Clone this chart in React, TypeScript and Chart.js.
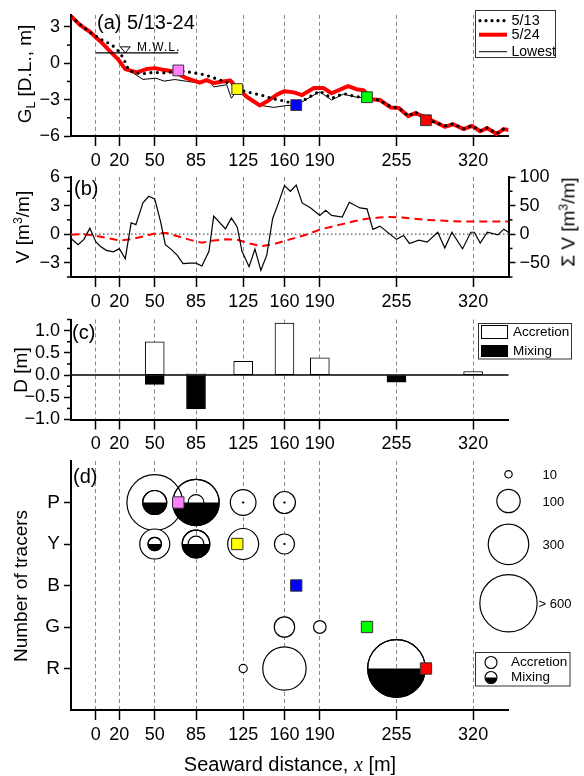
import React, { useEffect, useRef } from "react";
import { Chart, registerables } from "chart.js";

Chart.register(...registerables);

const FONT = "'Liberation Sans', Arial, Helvetica, sans-serif";
const W = 584;
const H = 776;
const PLOT_RIGHT = 508.5;
const X_AXIS_H = 36;

// ---------- shared x axis ----------
const distanceTicks = [0, 20, 50, 85, 125, 160, 190, 255, 320];
const X_MIN = -21;
const X_MAX = 350;

// ---------- (a) cross-shore profiles ----------
const profile0513X = [-21, -13, -5, 4, 12, 17, 21, 24, 28, 38, 49, 60, 70, 77, 89, 96, 106, 117, 120, 128, 140, 151, 162, 170, 179, 190, 200, 210, 221, 230, 240, 250, 257, 265, 271, 280, 286, 296, 303, 312, 319, 326, 332, 340, 346, 350];
const profile0513Y = [3.88, 3.2, 2.55, 2.0, 1.6, 1.26, 0.8, 0.3, -0.6, -0.88, -0.75, -0.8, -0.59, -0.7, -0.88, -1.07, -1.4, -1.8, -2.13, -2.35, -2.62, -2.94, -3.16, -3.45, -2.89, -2.3, -2.89, -2.49, -2.76, -2.81, -3.03, -3.56, -3.69, -4.36, -4.0, -4.7, -4.81, -5.16, -5.0, -5.4, -5.13, -5.58, -5.32, -5.8, -5.4, -5.5];
const profile0524X = [-21, -13, -5, 4, 12, 19, 25, 35, 43, 50, 57, 66, 77, 88, 94, 100, 108, 114, 120, 128, 139, 145, 154, 160, 168, 175, 185, 193, 200, 214, 221, 227, 234, 241, 250, 257, 265, 271, 277, 286, 296, 303, 312, 319, 326, 332, 340, 346, 350];
const profile0524Y = [3.88, 3.13, 2.6, 1.8, 1.0, 0.32, -0.48, -0.75, -0.48, -0.4, -0.53, -0.67, -1.23, -1.6, -1.39, -1.63, -1.5, -1.42, -2.04, -2.76, -3.48, -3.16, -2.57, -2.3, -2.4, -2.62, -2.04, -2.04, -2.47, -1.88, -2.14, -2.22, -2.97, -3.03, -3.64, -3.69, -4.36, -4.1, -4.36, -4.76, -5.24, -5.03, -5.43, -5.16, -5.61, -5.35, -5.83, -5.43, -5.51];
const lowestX = [-21, -13, -5, 4, 12, 19, 25, 33, 40, 51, 58, 67, 78, 88, 96, 100, 111, 115, 120, 128, 140, 151, 162, 170, 179, 190, 200, 210, 221, 230, 240, 250, 257, 265, 271, 280, 286, 296, 303, 312, 319, 326, 332, 340, 346, 350];
const lowestY = [3.88, 3.13, 2.6, 1.8, 1.0, 0.32, -0.48, -0.88, -1.33, -1.23, -1.47, -1.34, -1.5, -1.62, -1.42, -1.95, -1.77, -2.89, -2.22, -2.78, -3.48, -3.64, -3.48, -3.47, -2.95, -2.35, -3.03, -2.55, -2.8, -2.85, -3.06, -3.62, -3.72, -4.4, -4.12, -4.76, -4.83, -5.25, -5.06, -5.45, -5.18, -5.63, -5.37, -5.85, -5.45, -5.53];
const mwlElevation = 0.86;
const mwlRange = [0, 70];
const mwlMarkX = 25;
const mwlTextX = 35;
const elevMajor = [-6, -3, 0, 3];
const elevMinor = [-4.5, -1.5, 1.5];

// ---------- tracer injection points ----------
const tracerNames = ["P", "Y", "B", "G", "R"];
const tracerX = [70, 120, 170, 230, 280];
const tracerElevation = [-0.59, -2.13, -3.45, -2.8, -4.7];
const tracerColors = ["#ff80ff", "#ffff00", "#0000ff", "#00ff00", "#ff0000"];

// ---------- (b) volume change ----------
const volumeX = [-21, -15, -10, -5, 0, 4, 9, 15, 20, 25, 30, 34, 40, 45, 50, 55, 59, 64, 69, 74, 80, 85, 90, 96, 100, 110, 115, 120, 124, 130, 135, 140, 145, 150, 155, 160, 165, 170, 175, 182, 190, 195, 200, 209, 215, 224, 230, 235, 241, 255, 261, 266, 274, 281, 290, 296, 302, 311, 318, 321, 326, 332, 341, 346, 350];
const volumeV = [-0.45, -1.11, -0.55, 0.63, -0.8, -1.3, -1.7, -1.85, -1.52, -2.58, 1.19, 1.0, 3.28, 3.98, 3.7, 1.3, -1.1, -1.6, -2.2, -3.1, -3.05, -3.05, -3.35, -1.8, 1.89, 0.55, 1.7, 0.73, -1.8, -3.42, -1.56, -3.8, -2.2, 1.64, 3.28, 5.1, 4.5, 5.15, 3.28, 2.77, 1.97, 2.5, 1.97, 1.8, 3.35, 2.75, 2.66, 0.5, 0.84, -0.55, -0.14, -0.98, -0.63, -0.84, 0.2, -1.45, 0.2, -1.55, 0.2, 0.2, -0.94, 0.2, -0.07, 0.52, 0.2];
const cumulativeX = [-21, -10, 0, 10, 20, 30, 40, 50, 60, 70, 80, 90, 100, 110, 120, 130, 140, 150, 160, 170, 180, 190, 200, 210, 220, 230, 240, 250, 260, 270, 280, 290, 300, 310, 320, 330, 340, 350];
const cumulativeV = [-1, 0, -3, -7, -11, -9, -4, 1, 2, -4, -10, -15, -11, -9, -10, -16, -21, -18, -12, -6, 0, 8, 13, 18, 23, 27, 29, 30, 29, 27, 25, 24, 23, 22, 22, 22, 22, 22];
const vMajor = [-3, 0, 3, 6];
const vMinor = [-4.5, -1.5, 1.5, 4.5];
const sumMajor = [-50, 0, 50, 100];
const sumMinor = [-75, -25, 25, 75];

// ---------- (c) depths ----------
const accretionDepthX = [50, 85, 125, 160, 190, 320];
const accretionDepth = [0.75, 0.03, 0.31, 1.17, 0.39, 0.08];
const mixingDepthX = [50, 85, 255];
const mixingDepth = [-0.21, -0.76, -0.16];
const depthMajor = [-1, -0.5, 0, 0.5, 1];
const depthMinor = [-0.75, -0.25, 0.25, 0.75, 1.25];

// ---------- (d) number of tracers ----------
const rowLabels = ["R", "G", "B", "Y", "P"];
const accretionX = [50, 85, 125, 160, 50, 85, 125, 160, 160, 190, 125, 160];
const accretionRow = ["P", "P", "P", "P", "Y", "Y", "Y", "Y", "G", "G", "R", "R"];
const accretionCount = [565, 45, 120, 88, 164, 45, 175, 73, 76, 29, 12, 344];
const mixingX = [50, 85, 125, 160, 50, 85, 160, 255];
const mixingRow = ["P", "P", "P", "P", "Y", "Y", "Y", "R"];
const mixingCount = [105, 393, 0.2, 0.2, 33, 139, 0.2, 606];
const sizeLegendCounts = [10, 100, 300, 600];
const sizeLegendLabels = ["10", "100", "300", "> 600"];

// ---------- helpers ----------
const zip = (xs: number[], ys: number[]) => xs.map((x, i) => ({ x, y: ys[i] }));
const rowValue = (name: string) => rowLabels.indexOf(name) + 1;
const bubbleRadius = (n: number) => 1.17 * Math.sqrt(n);
const minus = (s: string) => s.replace("-", "\u2212");

function xScale() {
  return {
    type: "linear",
    position: "bottom",
    min: X_MIN,
    max: X_MAX,
    offset: false,
    bounds: "data",
    afterBuildTicks: (s: any) => {
      s.ticks = distanceTicks.map((v) => ({ value: v }));
    },
    afterFit: (s: any) => {
      s.height = X_AXIS_H;
    },
    ticks: {
      autoSkip: false,
      maxRotation: 0,
      minRotation: 0,
      padding: 4,
      color: "#000",
      font: { family: FONT, size: 18 },
      callback: (v: any) => String(v),
    },
    grid: {
      display: true,
      offset: false,
      drawOnChartArea: true,
      drawTicks: true,
      color: "#8a8a8a",
      lineWidth: 1,
      tickLength: 10,
      tickColor: "#000",
      tickWidth: 1.5,
    },
    border: { display: true, color: "#000", width: 2, dash: [4, 3] },
  };
}

function yScale(position: string, min: number, max: number, major: number[], label: (v: number) => string, width: number, size = 18) {
  return {
    type: "linear",
    position,
    min,
    max,
    bounds: "data",
    afterBuildTicks: (s: any) => {
      s.ticks = major.map((v) => ({ value: v }));
    },
    afterFit: (s: any) => {
      s.width = width;
    },
    ticks: {
      autoSkip: false,
      padding: 4,
      color: "#000",
      font: { family: FONT, size },
      callback: (v: any) => label(Number(v)),
    },
    grid: { drawOnChartArea: false, drawTicks: true, tickLength: 7, tickColor: "#000", tickWidth: 1.5, color: "#000" },
    border: { display: true, color: "#000", width: 2 },
  };
}

function baseOptions(top: number, bottom: number, rightPad: number) {
  return {
    responsive: false,
    maintainAspectRatio: false,
    animation: false,
    events: [],
    layout: { padding: { left: 0, right: rightPad, top, bottom: H - bottom - X_AXIS_H } },
    plugins: { legend: { display: false }, tooltip: { enabled: false }, title: { display: false } },
  };
}

function minorTicksPlugin(specs: { axis: string; values: number[]; side: "left" | "right" }[]) {
  return {
    id: "minorTicks",
    afterDraw(chart: any) {
      const ctx = chart.ctx;
      ctx.save();
      ctx.strokeStyle = "#000";
      ctx.lineWidth = 1.5;
      specs.forEach((sp) => {
        const s = chart.scales[sp.axis];
        const x0 = sp.side === "left" ? s.right : s.left;
        const dx = sp.side === "left" ? -4 : 4;
        sp.values.forEach((v) => {
          const y = s.getPixelForValue(v);
          ctx.beginPath();
          ctx.moveTo(x0, y);
          ctx.lineTo(x0 + dx, y);
          ctx.stroke();
        });
      });
      ctx.restore();
    },
  };
}

function drawText(ctx: any, text: string, x: number, y: number, size: number, align = "left") {
  ctx.save();
  ctx.fillStyle = "#000";
  ctx.font = `${size}px ${FONT}`;
  ctx.textAlign = align;
  ctx.textBaseline = "middle";
  ctx.fillText(text, x, y);
  ctx.restore();
}

// ---------- panel (a) ----------
function buildA(canvas: HTMLCanvasElement) {
  const deco = {
    id: "panelA",
    afterDatasetsDraw(chart: any) {
      const { ctx } = chart;
      const x = chart.scales.x;
      const y = chart.scales.y;
      const yl = y.getPixelForValue(mwlElevation);
      ctx.save();
      ctx.strokeStyle = "#000";
      ctx.lineWidth = 1.2;
      ctx.beginPath();
      ctx.moveTo(x.getPixelForValue(mwlRange[0]), yl);
      ctx.lineTo(x.getPixelForValue(mwlRange[1]), yl);
      ctx.stroke();
      const xt = x.getPixelForValue(mwlMarkX);
      ctx.lineWidth = 1;
      ctx.beginPath();
      ctx.moveTo(xt - 5, yl - 6);
      ctx.lineTo(xt + 5, yl - 6);
      ctx.lineTo(xt, yl);
      ctx.closePath();
      ctx.stroke();
      ctx.fillStyle = "#000";
      ctx.font = `12px ${FONT}`;
      ctx.textBaseline = "alphabetic";
      ctx.letterSpacing = "1px";
      ctx.fillText("M.W.L.", x.getPixelForValue(mwlTextX), yl - 1.5);
      ctx.restore();
    },
    afterDraw(chart: any) {
      const { ctx } = chart;
      drawText(ctx, "(a) 5/13-24", 97, 23, 20);
      ctx.save();
      ctx.fillStyle = "#fff";
      ctx.fillRect(475.5, 10.5, 80, 47);
      ctx.strokeStyle = "#333";
      ctx.lineWidth = 1;
      ctx.strokeRect(475.5, 10.5, 80, 47);
      ctx.save();
      ctx.setLineDash([0, 6]);
      ctx.lineCap = "round";
      ctx.lineWidth = 3.2;
      ctx.strokeStyle = "#000";
      ctx.beginPath();
      ctx.moveTo(480, 20.7);
      ctx.lineTo(507, 20.7);
      ctx.stroke();
      ctx.restore();
      ctx.strokeStyle = "#ff0000";
      ctx.lineWidth = 4;
      ctx.beginPath();
      ctx.moveTo(479, 34.7);
      ctx.lineTo(507, 34.7);
      ctx.stroke();
      ctx.strokeStyle = "#000";
      ctx.lineWidth = 1;
      ctx.beginPath();
      ctx.moveTo(479, 51.7);
      ctx.lineTo(507, 51.7);
      ctx.stroke();
      ctx.restore();
      drawText(ctx, "5/13", 511.5, 20.7, 14.5);
      drawText(ctx, "5/24", 511.5, 34.7, 14.5);
      drawText(ctx, "Lowest", 511.5, 51.7, 14);
    },
  };
  return new Chart(canvas, {
    type: "line",
    data: {
      datasets: [
        {
          label: "tracers",
          type: "scatter",
          showLine: false,
          data: zip(tracerX, tracerElevation),
          pointStyle: "rect",
          pointRadius: 7.6,
          pointBackgroundColor: tracerColors,
          backgroundColor: tracerColors,
          pointBorderColor: "#333",
          borderColor: "#333",
          pointBorderWidth: 1,
          order: 0,
        },
        {
          label: "5/13",
          data: zip(profile0513X, profile0513Y),
          borderColor: "#000",
          borderWidth: 3.2,
          borderDash: [0, 6.5],
          borderCapStyle: "round",
          pointRadius: 0,
          order: 1,
        },
        {
          label: "5/24",
          data: zip(profile0524X, profile0524Y),
          borderColor: "#ff0000",
          borderWidth: 4,
          borderJoinStyle: "round",
          pointRadius: 0,
          order: 2,
        },
        {
          label: "Lowest",
          data: zip(lowestX, lowestY),
          borderColor: "#000",
          borderWidth: 1,
          pointRadius: 0,
          order: 3,
        },
      ],
    },
    options: {
      ...baseOptions(11, 136, W - PLOT_RIGHT),
      scales: {
        x: xScale(),
        y: yScale("left", -6, 4, elevMajor, (v) => minus(String(v)), 71),
      },
    } as any,
    plugins: [minorTicksPlugin([{ axis: "y", values: elevMinor, side: "left" }]), deco],
  } as any);
}

// ---------- panel (b) ----------
function buildB(canvas: HTMLCanvasElement) {
  const deco = {
    id: "panelB",
    beforeDatasetsDraw(chart: any) {
      const { ctx, chartArea } = chart;
      const y0 = chart.scales.y.getPixelForValue(0);
      ctx.save();
      ctx.strokeStyle = "#555";
      ctx.lineWidth = 1.2;
      ctx.setLineDash([1.5, 2.5]);
      ctx.beginPath();
      ctx.moveTo(chartArea.left, y0);
      ctx.lineTo(chartArea.right, y0);
      ctx.stroke();
      ctx.restore();
    },
    afterDraw(chart: any) {
      drawText(chart.ctx, "(b)", 74, 189, 20);
    },
  };
  return new Chart(canvas, {
    type: "line",
    data: {
      datasets: [
        {
          label: "ΣV",
          data: zip(cumulativeX, cumulativeV),
          yAxisID: "y2",
          borderColor: "#ff0000",
          borderWidth: 2,
          borderDash: [8, 5],
          pointRadius: 0,
          order: 1,
        },
        {
          label: "V",
          data: zip(volumeX, volumeV),
          yAxisID: "y",
          borderColor: "#000",
          borderWidth: 1.2,
          pointRadius: 0,
          order: 0,
        },
      ],
    },
    options: {
      ...baseOptions(177, 277, 0),
      scales: {
        x: xScale(),
        y: yScale("left", -4.5, 6, vMajor, (v) => minus(String(v)), 71),
        y2: yScale("right", -75, 100, sumMajor, (v) => minus(String(v)), W - PLOT_RIGHT),
      },
    } as any,
    plugins: [
      minorTicksPlugin([
        { axis: "y", values: vMinor, side: "left" },
        { axis: "y2", values: sumMinor, side: "right" },
      ]),
      deco,
    ],
  } as any);
}

// ---------- panel (c) ----------
function buildC(canvas: HTMLCanvasElement) {
  const deco = {
    id: "panelC",
    afterDatasetsDraw(chart: any) {
      const { ctx, chartArea } = chart;
      const y0 = chart.scales.y.getPixelForValue(0);
      ctx.save();
      ctx.strokeStyle = "#000";
      ctx.lineWidth = 1.5;
      ctx.beginPath();
      ctx.moveTo(chartArea.left, y0);
      ctx.lineTo(chartArea.right, y0);
      ctx.stroke();
      ctx.restore();
    },
    afterDraw(chart: any) {
      const { ctx } = chart;
      drawText(ctx, "(c)", 72, 333, 20);
      ctx.save();
      ctx.fillStyle = "#fff";
      ctx.fillRect(478.5, 323.5, 93, 35.5);
      ctx.strokeStyle = "#333";
      ctx.lineWidth = 1;
      ctx.strokeRect(478.5, 323.5, 93, 35.5);
      ctx.strokeStyle = "#000";
      ctx.strokeRect(481.5, 325.5, 26, 13);
      ctx.fillStyle = "#000";
      ctx.fillRect(481, 345, 27, 12);
      ctx.restore();
      drawText(ctx, "Accretion", 513, 332.5, 13.5);
      drawText(ctx, "Mixing", 513, 351, 13.5);
    },
  };
  return new Chart(canvas, {
    type: "bar",
    data: {
      datasets: [
        {
          label: "Accretion",
          data: zip(accretionDepthX, accretionDepth),
          backgroundColor: "#fff",
          borderColor: "#000",
          borderWidth: 1,
          borderSkipped: false,
          barThickness: 19,
          grouped: false,
        },
        {
          label: "Mixing",
          data: zip(mixingDepthX, mixingDepth),
          backgroundColor: "#000",
          borderColor: "#000",
          borderWidth: 1,
          borderSkipped: false,
          barThickness: 19,
          grouped: false,
        },
      ],
    },
    options: {
      ...baseOptions(319.5, 419.5, W - PLOT_RIGHT),
      scales: {
        x: xScale(),
        y: yScale("left", -1, 1.25, depthMajor, (v) => minus(v.toFixed(1)), 71),
      },
    } as any,
    plugins: [minorTicksPlugin([{ axis: "y", values: depthMinor, side: "left" }]), deco],
  } as any);
}

// ---------- panel (d) ----------
function buildD(canvas: HTMLCanvasElement) {
  const halfCircle = (ctx: any, x: number, y: number, r: number) => {
    ctx.beginPath();
    ctx.arc(x, y, r, 0, Math.PI, false);
    ctx.closePath();
    ctx.fillStyle = "#000";
    ctx.fill();
    ctx.beginPath();
    ctx.arc(x, y, r, 0, Math.PI * 2);
    ctx.strokeStyle = "#000";
    ctx.stroke();
  };
  const deco = {
    id: "panelD",
    afterDatasetDraw(chart: any, args: any) {
      const ds: any = chart.data.datasets[args.index];
      if (!ds.isMixing) return;
      const { ctx } = chart;
      ctx.save();
      ctx.lineWidth = 1.2;
      args.meta.data.forEach((el: any) => {
        const r = el.options.radius;
        if (r < 1) ctx.lineWidth = 0.8;
        else ctx.lineWidth = 1.2;
        halfCircle(ctx, el.x, el.y, r);
      });
      ctx.restore();
    },
    afterDraw(chart: any) {
      const { ctx, chartArea } = chart;
      drawText(ctx, "(d)", 73, 477, 20);
      const cys = [474.3, 501, 544.3, 603.3];
      ctx.save();
      ctx.lineWidth = 1.2;
      ctx.strokeStyle = "#000";
      sizeLegendCounts.forEach((n, i) => {
        ctx.beginPath();
        ctx.arc(chartArea.right, cys[i], bubbleRadius(n), 0, Math.PI * 2);
        ctx.fillStyle = "#fff";
        ctx.fill();
        ctx.stroke();
      });
      ctx.restore();
      sizeLegendLabels.forEach((t, i) => {
        drawText(ctx, t, i === 3 ? 538.5 : 542.5, cys[i] + 1, 13);
      });
      ctx.save();
      ctx.fillStyle = "#fff";
      ctx.fillRect(475.5, 652.5, 94.5, 33.5);
      ctx.strokeStyle = "#333";
      ctx.lineWidth = 1;
      ctx.strokeRect(475.5, 652.5, 94.5, 33.5);
      ctx.lineWidth = 1.1;
      ctx.strokeStyle = "#000";
      ctx.beginPath();
      ctx.arc(491, 662.5, 6, 0, Math.PI * 2);
      ctx.stroke();
      halfCircle(ctx, 491, 677.5, 6);
      ctx.restore();
      drawText(ctx, "Accretion", 511, 662.5, 13.5);
      drawText(ctx, "Mixing", 511, 677.5, 13.5);
    },
  };
  return new Chart(canvas, {
    type: "bubble",
    data: {
      datasets: [
        {
          label: "tracers",
          type: "scatter",
          showLine: false,
          data: tracerX.map((x, i) => ({ x, y: rowValue(tracerNames[i]) })),
          pointStyle: "rect",
          pointRadius: 8,
          pointBackgroundColor: tracerColors,
          backgroundColor: tracerColors,
          pointBorderColor: "#333",
          borderColor: "#333",
          pointBorderWidth: 1,
          order: 0,
        },
        {
          label: "Mixing",
          isMixing: true,
          data: mixingX.map((x, i) => ({ x, y: rowValue(mixingRow[i]), r: bubbleRadius(mixingCount[i]) })),
          backgroundColor: "rgba(0,0,0,0)",
          borderColor: "#000",
          borderWidth: 1.2,
          order: 1,
        },
        {
          label: "Accretion",
          data: accretionX.map((x, i) => ({ x, y: rowValue(accretionRow[i]), r: bubbleRadius(accretionCount[i]) })),
          backgroundColor: "#fff",
          borderColor: "#000",
          borderWidth: 1.2,
          order: 2,
        },
      ],
    },
    options: {
      ...baseOptions(461, 710, W - PLOT_RIGHT),
      scales: {
        x: xScale(),
        y: yScale("left", 0, 6, [1, 2, 3, 4, 5], (v) => rowLabels[Math.round(v) - 1] || "", 71, 19),
      },
    } as any,
    plugins: [deco],
  } as any);
}

const Sub = ({ children }: { children: any }) => (
  <span style={{ fontSize: "0.65em", position: "relative", top: "0.35em" }}>{children}</span>
);
const Sup = ({ children }: { children: any }) => (
  <span style={{ fontSize: "0.65em", position: "relative", top: "-0.55em" }}>{children}</span>
);

const rot = (cx: number, cy: number, size = 19): React.CSSProperties => ({
  position: "absolute",
  left: cx,
  top: cy,
  transform: "translate(-50%, -50%) rotate(-90deg)",
  whiteSpace: "nowrap",
  fontSize: size,
  fontFamily: FONT,
  lineHeight: 1,
  color: "#000",
});

export default function App() {
  const refA = useRef<HTMLCanvasElement>(null);
  const refB = useRef<HTMLCanvasElement>(null);
  const refC = useRef<HTMLCanvasElement>(null);
  const refD = useRef<HTMLCanvasElement>(null);

  useEffect(() => {
    const charts = [buildA(refA.current!), buildB(refB.current!), buildC(refC.current!), buildD(refD.current!)];
    return () => charts.forEach((c) => c.destroy());
  }, []);

  const canvasStyle: React.CSSProperties = { position: "absolute", left: 0, top: 0, width: W, height: H };

  return (
    <div style={{ position: "absolute", left: 0, top: 0, width: W, height: H, background: "#fff", overflow: "hidden" }}>
      <canvas ref={refA} width={W} height={H} style={canvasStyle} />
      <canvas ref={refB} width={W} height={H} style={canvasStyle} />
      <canvas ref={refC} width={W} height={H} style={canvasStyle} />
      <canvas ref={refD} width={W} height={H} style={canvasStyle} />
      <div style={rot(24, 73.5)}>
        G<Sub>L</Sub> [D.L., m]
      </div>
      <div style={rot(22, 227)}>
        V [m<Sup>3</Sup>/m]
      </div>
      <div style={rot(568, 222)}>
        Σ V [m<Sup>3</Sup>/m]
      </div>
      <div style={rot(20, 370)}>D [m]</div>
      <div style={rot(20, 585.5)}>Number of tracers</div>
      <div
        style={{
          position: "absolute",
          left: 290,
          top: 764,
          transform: "translate(-50%, -50%)",
          whiteSpace: "nowrap",
          fontSize: 20,
          fontFamily: FONT,
          lineHeight: 1,
          color: "#000",
        }}
      >
        Seaward distance, <span style={{ fontFamily: "'Liberation Serif', 'DejaVu Serif', serif", fontStyle: "italic" }}>x</span> [m]
      </div>
    </div>
  );
}
